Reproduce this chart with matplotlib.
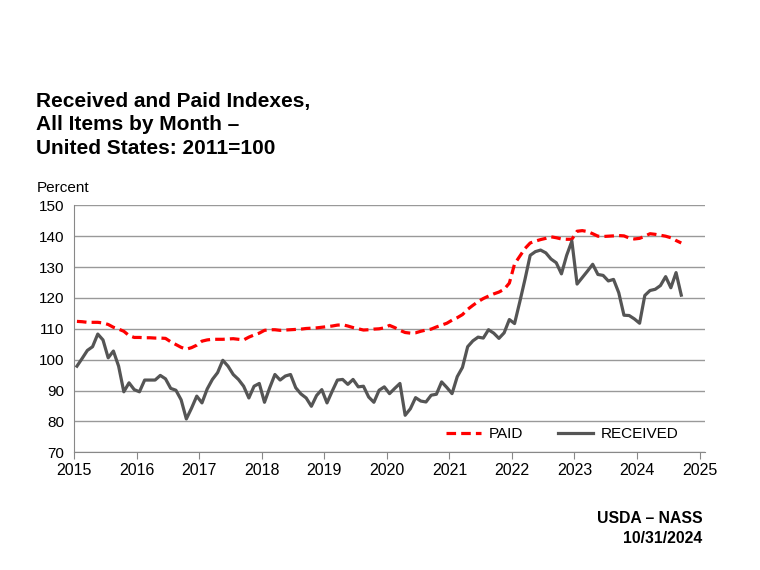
import matplotlib
matplotlib.use("Agg")
import matplotlib.pyplot as plt

plt.rcParams['font.family'] = ['Liberation Sans', 'DejaVu Sans']

start_year = 2015

# monthly index values, Jan 2015 - Sep 2024 (2011=100)
paid = [
    112.4, 112.3, 112.1, 112.1, 112.1, 111.9, 111.4, 110.5, 109.9, 109.2, 107.8, 107.2,
    107.2, 107.1, 107.1, 107.0, 107.0, 106.9, 105.8, 104.9, 104.0, 103.4, 103.9, 104.7,
    106.0, 106.4, 106.6, 106.6, 106.6, 106.7, 106.8, 106.6, 106.4, 107.3, 108.0, 108.6,
    109.5, 109.7, 109.7, 109.5, 109.6, 109.7, 109.8, 109.9, 110.1, 110.2, 110.3, 110.5,
    110.7, 110.9, 111.2, 111.3, 110.9, 110.4, 110.0, 109.6, 109.7, 109.9, 110.0, 110.3,
    111.1, 110.4, 109.5, 108.8, 108.6, 108.7, 109.2, 109.6, 109.9, 110.6, 111.2, 111.8,
    112.8, 113.6, 114.6, 116.3, 117.6, 118.8, 119.8, 120.6, 121.3, 121.9, 122.8, 124.8,
    131.0, 133.5, 136.0, 137.8, 138.4, 138.9, 139.3, 139.8, 139.5, 139.1, 139.0, 139.0,
    141.6, 141.8, 141.5, 140.8, 140.0, 139.9, 140.0, 140.1, 140.2, 140.1, 139.4, 139.1,
    139.3, 140.0, 140.8, 140.6, 140.3, 140.0, 139.5, 138.6, 137.8,
]
received = [
    97.9, 100.4, 103.0, 104.2, 108.3, 106.4, 100.6, 102.8, 97.9, 89.6, 92.5, 90.3,
    89.6, 93.4, 93.4, 93.4, 94.9, 93.8, 90.7, 90.1, 87.0, 80.8, 84.3, 88.2,
    86.0, 90.5, 93.6, 95.8, 99.8, 97.9, 95.2, 93.6, 91.4, 87.6, 91.4, 92.3,
    86.2, 90.9, 95.2, 93.4, 94.7, 95.2, 90.9, 88.9, 87.6, 84.9, 88.4, 90.3,
    86.0, 89.8, 93.4, 93.6, 92.0, 93.6, 91.2, 91.4, 87.9, 86.2, 90.1, 91.2,
    89.0, 90.7, 92.3, 82.0, 84.1, 87.7, 86.6, 86.3, 88.5, 88.8, 92.8, 91.0,
    89.0, 94.5, 97.5, 104.2, 106.1, 107.3, 107.0, 109.7, 108.6, 106.9, 108.7, 113.0,
    111.7, 118.7, 126.0, 133.8, 135.0, 135.5, 134.6, 132.6, 131.4, 127.8, 133.8, 138.4,
    124.5, 126.6, 128.7, 130.9, 127.6, 127.3, 125.5, 126.0, 121.7, 114.4, 114.3, 113.2,
    111.8, 120.8, 122.4, 122.8, 124.0, 126.9, 123.3, 128.2, 120.9,
]
years = list(range(2015, 2026))
y_ticks = list(range(70, 151, 10))

dates = [start_year + (i + 0.5) / 12 for i in range(len(paid))]

fig = plt.figure(figsize=(7.6, 5.7), dpi=100)
ax = fig.add_axes([0.0978, 0.2065, 0.830, 0.4333])

ax.plot(dates, paid, color='#ff0000', linewidth=2.3, linestyle=(0, (3, 1.6)), label='PAID')
ax.plot(dates, received, color='#555555', linewidth=2.3, label='RECEIVED')

ax.set_xlim(2015, 2025.09)
ax.set_ylim(70, 150)
ax.set_xticks(years)
ax.set_yticks(y_ticks)
ax.tick_params(axis='x', length=5, color='#888888', labelsize=11.5, pad=3)
ax.tick_params(axis='y', length=0, labelsize=11, pad=7)
ax.grid(axis='y', color='#999999', linewidth=1)
ax.set_axisbelow(True)
for side in ['top', 'right']:
    ax.spines[side].set_visible(False)
for side in ['left', 'bottom']:
    ax.spines[side].set_color('#888888')

ax.legend(loc='lower right', bbox_to_anchor=(0.98, -0.01), ncol=2, frameon=False,
          fontsize=11, handlelength=2.3, columnspacing=2.3, handletextpad=0.5)

fig.text(0.048, 0.781, 'Received and Paid Indexes,\nAll Items by Month \u2013\nUnited States: 2011=100',
         fontsize=15, fontweight='bold', ha='left', va='center', linespacing=1.32)
fig.text(0.048, 0.67, 'Percent', fontsize=11, ha='left', va='center')
fig.text(0.924, 0.073, 'USDA \u2013 NASS\n10/31/2024', fontsize=11.3, fontweight='bold',
         ha='right', va='center', linespacing=1.4)

plt.savefig('out.png')
